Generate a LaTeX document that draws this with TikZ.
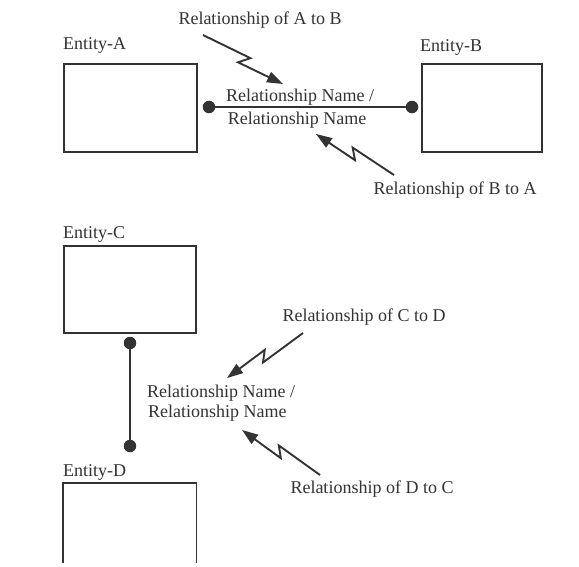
\documentclass[tikz,border=0pt]{standalone}
\usepackage{fontspec}
\setmainfont{Liberation Serif}
\usetikzlibrary{arrows.meta,calc}
\definecolor{ink}{HTML}{333333}
\tikzset{
  lbl/.style={inner sep=0pt, font=\fontsize{18}{20}\selectfont, text=ink},
  entity/.style={draw=ink, line width=1.5pt, inner sep=0pt},
  dot/.style={circle, fill=ink, inner sep=0pt, minimum size=12.5pt},
  conn/.style={draw=ink, line width=1.8pt},
  bolt/.style={draw=ink, line width=1.9pt, -{Triangle[length=16pt,width=11pt]}, line join=miter},
}
\newcommand\boltarrow[3]{%
  \draw[bolt] (#1) -- ($(#1)!0.56!(#2)!5pt!#3:(#2)$) -- ($(#1)!0.47!(#2)!-5pt!#3:(#2)$) -- (#2);}
\begin{document}
\begin{tikzpicture}[x=1pt,y=-1pt]
\useasboundingbox[fill=white] (0,0) rectangle (579,566);
% entities
\node[entity, minimum width=133pt, minimum height=88pt, anchor=north west] (A) at (63,63) {};
\node[entity, minimum width=120pt, minimum height=88pt, anchor=north west] (B) at (421,63) {};
\node[entity, minimum width=132pt, minimum height=87pt, anchor=north west] (C) at (63,245) {};
\node[inner sep=0pt, minimum width=133pt, minimum height=80pt, anchor=north west] (D) at (63,483) {};
\draw[ink, line width=1.5pt] (D.south west) -- (D.north west) -- (D.north east) -- (D.south east);
% entity labels
\node[lbl, anchor=west] (eA) at (63,45) {Entity-A};
\node[lbl, anchor=west] (eB) at (420,47) {Entity-B};
\node[lbl, anchor=west] (eC) at (63,234) {Entity-C};
\node[lbl, anchor=west] (eD) at (63,472) {Entity-D};
% dots and connectors
\node[dot] (dA) at (209,107) {};
\node[dot] (dB) at (412,107) {};
\node[dot] (dC) at (130,343) {};
\node[dot] (dD) at (130,446) {};
\draw[conn] (dA) -- (dB);
\draw[conn] (dC) -- (dD);
% relationship names
\node[lbl] (rn1) at (300,97) {Relationship Name /};
\node[lbl] (rn2) at (297,120) {Relationship Name};
\node[lbl, anchor=west] (rn3) at (147,393) {Relationship Name /};
\node[lbl, anchor=west] (rn4) at (148,413) {Relationship Name};
% relationship labels
\node[lbl] (lAB) at (260,20) {Relationship of A to B};
\node[lbl] (lBA) at (455,190) {Relationship of B to A};
\node[lbl] (lCD) at (364,317) {Relationship of C to D};
\node[lbl] (lDC) at (372,489) {Relationship of D to C};
% bolt arrows
\coordinate (sAB) at (203,35);  \coordinate (eAB) at (283,84);
\coordinate (sBA) at (394,175); \coordinate (eBA) at (316,134);
\coordinate (sCD) at (303,333); \coordinate (eCD) at (227,378);
\coordinate (sDC) at (320,475); \coordinate (eDC) at (242,430);
\boltarrow{sAB}{eAB}{90}
\boltarrow{sBA}{eBA}{-90}
\boltarrow{sCD}{eCD}{90}
\boltarrow{sDC}{eDC}{-90}
\end{tikzpicture}
\end{document}
